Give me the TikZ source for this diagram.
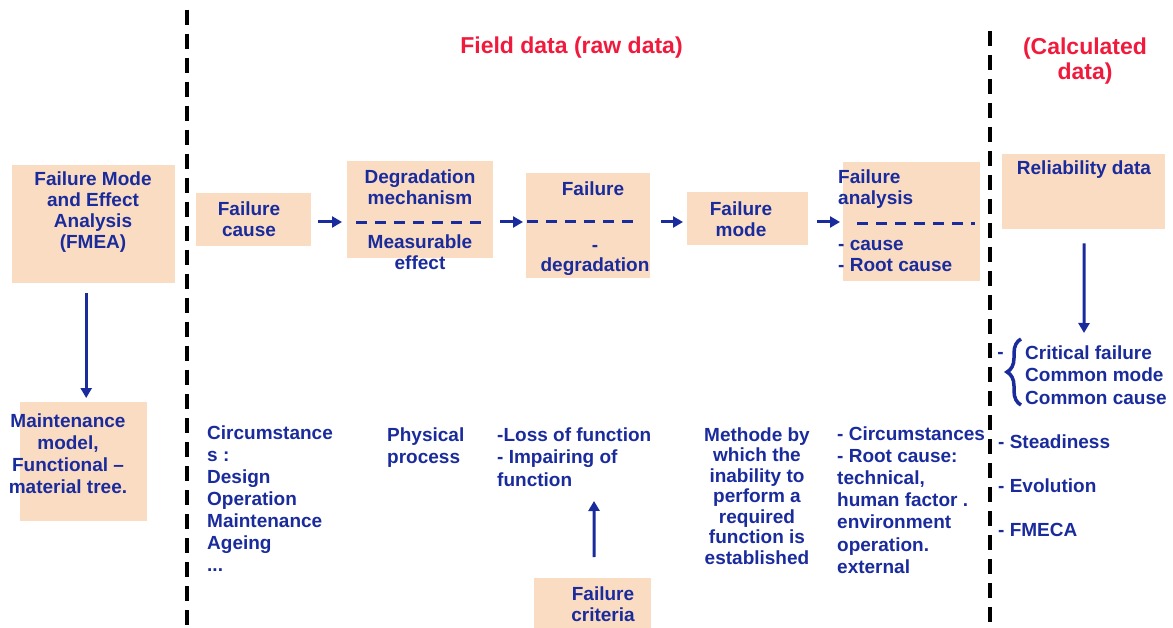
\documentclass[tikz,border=0pt]{standalone}
\usepackage{fontspec}
\setmainfont{Liberation Sans}
\usetikzlibrary{arrows.meta,decorations.pathreplacing}
\definecolor{myblue}{HTML}{1A2B9C}
\definecolor{peach}{HTML}{FADCC2}
\definecolor{myred}{HTML}{F01A3C}
\tikzset{
  box/.style={fill=peach, draw=none, inner sep=0pt, anchor=north west},
  txt/.style={text=myblue, inner sep=0pt, font=\bfseries\fontsize{19}{21}\selectfont},
  wtxt/.style={text=myblue, inner sep=0pt, font=\bfseries\fontsize{19}{22}\selectfont},
  title/.style={text=myred, inner sep=0pt, align=center, font=\bfseries\fontsize{23}{25}\selectfont},
  arr/.style={draw=myblue, line width=3pt, -{Triangle[length=10pt,width=11pt]}},
  dline/.style={draw=myblue, line width=3pt, dash pattern=on 11pt off 8pt},
  vdash/.style={draw=black, line width=3.5pt, dash pattern=on 15pt off 9pt}
}
\begin{document}
\begin{tikzpicture}[x=1pt,y=-1pt]
\useasboundingbox (0,0) rectangle (1173,628);
% separators
\draw[vdash] (187,10) -- (187,628);
\draw[vdash] (990,31) -- (990,628);
% titles
\node[title] (field) at (571.5,48) {Field data (raw data)};
\node[title] (calc) at (1085,61) {(Calculated\\data)};
% boxes
\node[box, minimum width=163pt, minimum height=118pt] (fmea) at (12,165) {};
\node[box, minimum width=127pt, minimum height=119pt] (maint) at (20,402) {};
\node[box, minimum width=115pt, minimum height=53pt] (cause) at (196,193) {};
\node[box, minimum width=146pt, minimum height=97pt] (degr) at (347,161) {};
\node[box, minimum width=124pt, minimum height=105pt] (fail) at (526,173) {};
\node[box, minimum width=121pt, minimum height=53pt] (mode) at (687,192) {};
\node[box, minimum width=137pt, minimum height=119pt] (anal) at (843,162) {};
\node[box, minimum width=163pt, minimum height=75pt] (rel) at (1002,154) {};
\node[box, minimum width=117pt, minimum height=52pt] (crit) at (534,578) {};
% texts in boxes
\node[txt, align=center] (fmeat) at (93,212) {Failure Mode\\and Effect\\Analysis\\(FMEA)};
\node[wtxt, align=center] (maintt) at (68,454) {Maintenance\\model,\\Functional –\\material tree.};
\node[txt, align=center] (causet) at (249,219) {Failure\\cause};
\node[txt, align=center] (degrt) at (420,187) {Degradation\\mechanism};
\node[txt, align=center] (degrb) at (420,252) {Measurable\\effect};
\node[txt, align=center] (failt) at (593,189) {Failure};
\node[txt, align=center, anchor=south, font=\bfseries\fontsize{19}{20.5}\selectfont] (failb) at (595,276) {-\\degradation};
\node[txt, align=center] (modet) at (741,219) {Failure\\mode};
\node[txt, align=left, anchor=west] (analt) at (838,189) {Failure\\analysis};
\node[txt, align=left, anchor=west] (analb) at (838,256) {- cause\\- Root cause};
\node[txt] (relt) at (1084,170) {Reliability data};
\node[txt, align=center] (critt) at (603,604) {Failure\\criteria};
% dashed lines inside boxes
\draw[dline] (356,223) -- (482,223);
\draw[dline] (527,222) -- (636,222);
\draw[dline] (857,224) -- (975,224);
% row arrows
\coordinate (row) at (0,222);
\draw[arr, shorten <=7pt, shorten >=5pt] (cause.east |- row) -- (degr.west |- row);
\draw[arr, shorten <=7pt, shorten >=3pt] (degr.east |- row) -- (fail.west |- row);
\draw[arr, shorten <=11pt, shorten >=4pt] (fail.east |- row) -- (mode.west |- row);
\draw[arr, shorten <=9pt, shorten >=3pt] (mode.east |- row) -- (anal.west |- row);
% vertical arrows
\draw[arr, shorten <=10pt, shorten >=4pt] ([xshift=-7.5pt]fmea.south) -- ([xshift=2.5pt]maint.north);
\coordinate (relend) at (1084,333);
\draw[arr, shorten <=14pt] ([xshift=0.5pt]rel.south) -- (relend);
\coordinate (critend) at (594,501);
\draw[arr, shorten <=21pt] ([xshift=1.5pt]crit.north) -- (critend);
% bottom texts
\node[wtxt, align=left, anchor=west] (circ) at (207,499) {Circumstance\\s :\\Design\\Operation\\Maintenance\\Ageing\\...};
\node[wtxt, align=left, anchor=west] (phys) at (387,448) {Physical\\process};
\node[txt, align=left, anchor=west, font=\bfseries\fontsize{19}{22.5}\selectfont] (loss) at (497,457) {-Loss of function\\- Impairing of\\function};
\node[txt, align=center, font=\bfseries\fontsize{19}{20.5}\selectfont] (meth) at (757,496) {Methode by\\which the\\inability to\\perform a\\required\\function is\\established};
\node[txt, align=left, anchor=west, font=\bfseries\fontsize{19}{22.2}\selectfont] (roots) at (837,500) {- Circumstances\\- Root cause:\\technical,\\human factor .\\environment\\operation.\\external};
% right column
\node[txt] (dash1) at (1000.5,355) {-};
\draw[myblue, line width=3.5pt, decorate, decoration={brace, amplitude=14pt, aspect=0.5}] (1021,405) -- (1021,339);
\node[txt, align=left, anchor=west, font=\bfseries\fontsize{19}{22.5}\selectfont] (critl) at (1025,375) {Critical failure\\Common mode\\Common cause};
\node[txt, anchor=west] (stead) at (998,442) {- Steadiness};
\node[txt, anchor=west] (evol) at (998,486) {- Evolution};
\node[txt, anchor=west] (fmeca) at (998,530) {- FMECA};
\end{tikzpicture}
\end{document}
